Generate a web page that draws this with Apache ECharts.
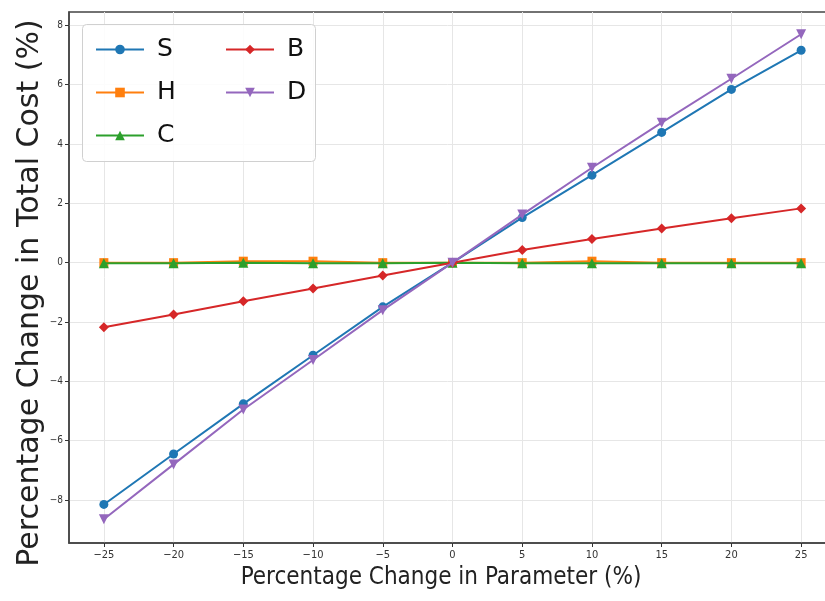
<!DOCTYPE html>
<html>
<head>
<meta charset="utf-8">
<script src="https://cdn.jsdelivr.net/npm/echarts@6/dist/echarts.min.js"></script>
<style>
html,body{margin:0;padding:0;background:#fff;overflow:hidden;}
#c{width:825px;height:601px;}
</style>
</head>
<body>
<div id="c"></div>
<script>
const xValues = [-25, -20, -15, -10, -5, 0, 5, 10, 15, 20, 25];
const sValues = [-8.15, -6.45, -4.76, -3.12, -1.49, 0, 1.52, 2.95, 4.39, 5.84, 7.16];
const hValues = [0, 0, 0.05, 0.05, 0, 0, 0, 0.05, 0, 0, 0];
const cValues = [-0.02, -0.02, 0, -0.02, -0.02, 0, -0.02, -0.02, -0.02, -0.02, -0.02];
const bValues = [-2.18, -1.75, -1.3, -0.87, -0.43, 0, 0.43, 0.8, 1.15, 1.5, 1.83];
const dValues = [-8.65, -6.8, -4.95, -3.28, -1.6, 0, 1.62, 3.2, 4.72, 6.2, 7.7];
const seriesNames = ['S', 'H', 'C', 'B', 'D'];
const xTicks = [-25, -20, -15, -10, -5, 0, 5, 10, 15, 20, 25];
const yTicks = [-8, -6, -4, -2, 0, 2, 4, 6, 8];
const xTitle = 'Percentage Change in Parameter (%)';
const yTitle = 'Percentage Change in Total Cost (%)';

const colors = ['#1f77b4', '#ff7f0e', '#2ca02c', '#d62728', '#9467bd'];
const symbols = ['circle', 'rect', 'triangle', 'diamond', 'path://M0,0 L10,0 L5,10 Z'];
const symbolSizes = [9, 9, 10, 10, 10];
const allValues = [sValues, hValues, cValues, bValues, dValues];

const series = seriesNames.map((name, i) => ({
  name: name,
  type: 'line',
  data: xValues.map((x, j) => [x, allValues[i][j]]),
  symbol: symbols[i],
  symbolSize: symbolSizes[i],
  showAllSymbol: true,
  lineStyle: { color: colors[i], width: 2 },
  itemStyle: { color: colors[i] },
  z: 2 + i,
  animation: false
}));

const minus = v => String(v).replace('-', '\u2212');
const chart = echarts.init(document.getElementById('c'), null, { renderer: 'canvas' });
chart.setOption({
  animation: false,
  grid: { left: 69, width: 767, top: 12, bottom: 58, containLabel: false, outerBoundsMode: 'none',
          show: true, borderColor: '#444', borderWidth: 1.5, backgroundColor: 'transparent' },
  xAxis: {
    type: 'value', min: -27.5, max: 27.5,
    axisLine: { show: true, onZero: false, lineStyle: { color: '#444', width: 1.5 } },
    axisTick: { show: true, length: 4, lineStyle: { color: '#333' }, customValues: xTicks },
    axisLabel: {
      fontFamily: '"DejaVu Sans Condensed", "DejaVu Sans"', fontSize: 11, color: '#333', margin: 7,
      customValues: xTicks,
      formatter: v => minus(v)
    },
    splitLine: { show: true, lineStyle: { color: '#e6e6e6', width: 1 } }
  },
  yAxis: {
    type: 'value', min: -9.45, max: 8.45,
    axisLine: { show: true, onZero: false, lineStyle: { color: '#444', width: 1.5 } },
    axisTick: { show: true, length: 4, lineStyle: { color: '#333' }, customValues: yTicks },
    axisLabel: {
      fontFamily: '"DejaVu Sans Condensed", "DejaVu Sans"', fontSize: 10, color: '#333', margin: 6,
      customValues: yTicks,
      formatter: v => minus(v)
    },
    splitLine: { show: true, lineStyle: { color: '#e6e6e6', width: 1 } }
  },
  graphic: [
    {
      type: 'rect', left: 82, top: 24, z: 100,
      shape: { width: 233, height: 137, r: 4 },
      style: { fill: 'rgba(255,255,255,0.85)', stroke: '#d0d0d0', lineWidth: 1 }
    },
    {
      type: 'text', z: 100, x: 441, y: 578,
      style: { text: xTitle, fontFamily: '"DejaVu Sans Condensed", "Liberation Sans Narrow", "DejaVu Sans"',
               fontSize: 24, fill: '#222', align: 'center', verticalAlign: 'middle' }
    },
    {
      type: 'text', z: 100, x: 30, y: 293, rotation: Math.PI / 2,
      style: { text: yTitle, fontFamily: '"DejaVu Sans"', fontSize: 30, fill: '#222',
               align: 'center', verticalAlign: 'middle' }
    }
  ],
  legend: [
    {
      data: ['S', 'H', 'C'], orient: 'vertical', left: 90, top: 32, z: 101,
      itemWidth: 48, itemHeight: 12, itemGap: 18,
      textStyle: { fontFamily: '"DejaVu Sans"', fontSize: 25, color: '#111', padding: [0, 0, 0, 8] }
    },
    {
      data: ['B', 'D'], orient: 'vertical', left: 220, top: 32, z: 101,
      itemWidth: 48, itemHeight: 12, itemGap: 18,
      textStyle: { fontFamily: '"DejaVu Sans"', fontSize: 25, color: '#111', padding: [0, 0, 0, 8] }
    }
  ],
  series: series
});
</script>
</body>
</html>
